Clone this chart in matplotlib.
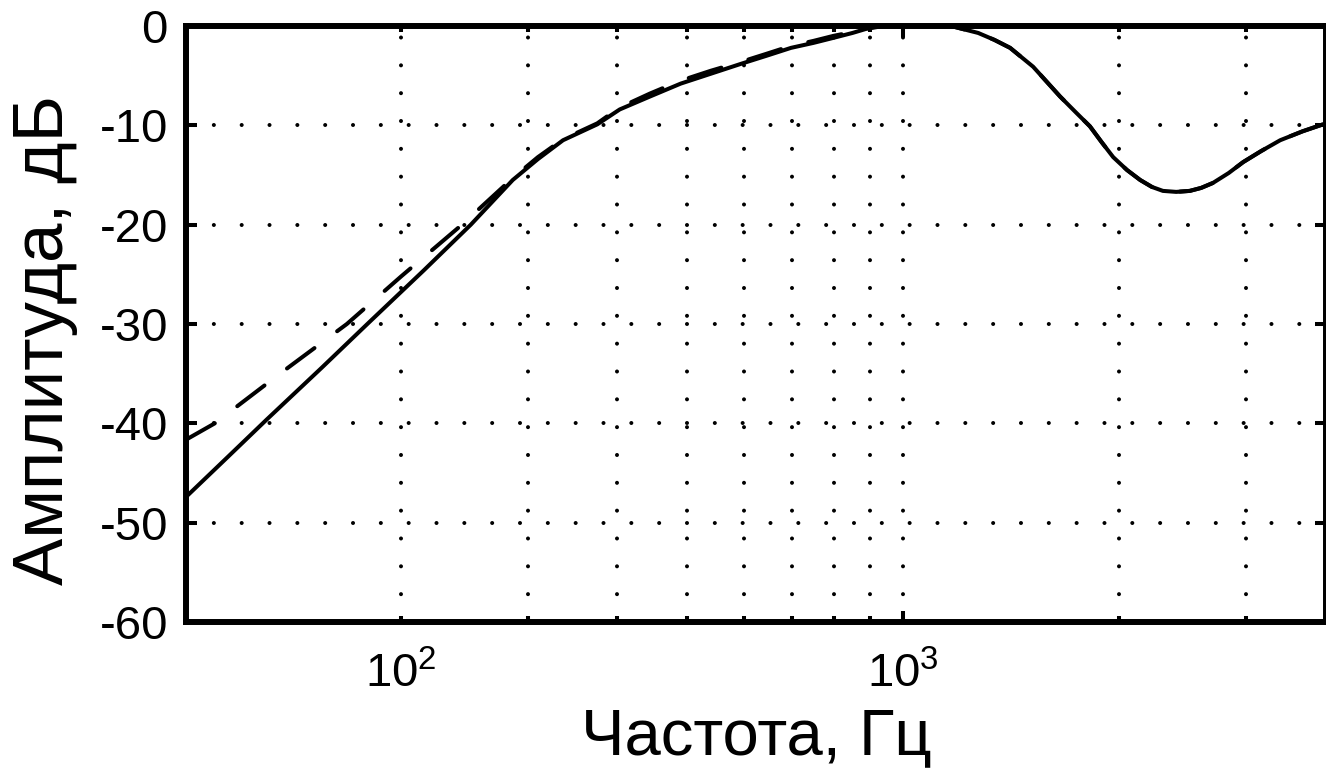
import matplotlib
matplotlib.use('Agg')
import matplotlib.pyplot as plt

plt.rcParams['font.family'] = ['Liberation Sans', 'DejaVu Sans']
plt.rcParams['mathtext.fontset'] = 'custom'
plt.rcParams['mathtext.rm'] = 'Liberation Sans'
plt.rcParams['mathtext.it'] = 'Liberation Sans'

# frequency response (Hz, dB)
freq_solid = [100, 115, 130, 155, 180, 215, 250, 286, 310, 336, 375, 403, 444,
              490, 540, 595, 645, 698, 750, 799, 850, 887, 938, 1000, 1080,
              1152, 1210, 1272, 1340, 1409, 1517, 1654, 1740, 1820, 1890, 1961,
              2050, 2138, 2220, 2300, 2400, 2507, 2600, 2700, 2840, 2975, 3150,
              3350, 3600, 3880]
amp_solid = [-47.5, -43.3, -39.6, -34.4, -29.9, -24.6, -20.0, -15.5, -13.4,
             -11.5, -9.9, -8.4, -7.1, -5.8, -4.8, -3.8, -3.0, -2.2, -1.7, -1.2,
             -0.7, -0.3, 0.0, 0.3, 0.4, 0.1, -0.3, -0.7, -1.4, -2.2, -4.1, -7.1,
             -8.7, -10.1, -11.7, -13.2, -14.5, -15.5, -16.2, -16.6, -16.7,
             -16.6, -16.3, -15.8, -14.8, -13.7, -12.6, -11.5, -10.6, -9.8]

freq_dashed = [100, 110, 135, 168, 200, 243, 286, 310, 336, 375, 403, 444, 490,
               540, 595, 645, 698, 750, 799, 850, 887, 938, 1000, 1080, 1152,
               1210, 1272, 1340, 1409, 1517, 1654, 1740, 1820, 1890, 1961, 2050,
               2138, 2220, 2300, 2400, 2507, 2600, 2700, 2840, 2975, 3150, 3350,
               3600, 3880]
amp_dashed = [-41.7, -40.0, -35.1, -30.0, -25.2, -20.0, -15.3, -13.2, -11.4,
              -9.8, -8.2, -6.8, -5.5, -4.5, -3.6, -2.8, -2.0, -1.5, -1.0, -0.6,
              -0.2, 0.0, 0.3, 0.4, 0.1, -0.3, -0.7, -1.4, -2.2, -4.1, -7.1,
              -8.7, -10.1, -11.7, -13.2, -14.5, -15.5, -16.2, -16.6, -16.7,
              -16.6, -16.3, -15.8, -14.8, -13.7, -12.6, -11.5, -10.6, -9.8]

x_major = [1000]
x_major_labels = ['$10^3$']
x_minor = [200, 300, 400, 500, 600, 700, 800, 900, 2000, 3000]
x_minor_labels = ['$10^2$', '', '', '', '', '', '', '', '', '']
y_ticks = [-60, -50, -40, -30, -20, -10, 0]

fig = plt.figure(figsize=(13.26, 7.71), dpi=100)
ax = fig.add_axes([186 / 1326, 149 / 771, 1140 / 1326, 596 / 771])

ax.plot(freq_solid, amp_solid, color='k', lw=2.9,
        solid_capstyle='round', solid_joinstyle='round')
ax.plot(freq_dashed, amp_dashed, color='k', lw=2.9,
        dashes=(8.5, 7.0), dash_capstyle='round')

ax.set_xscale('log')
ax.set_xlim(100.3, 3880)
ax.set_ylim(-60, 0)

ax.set_xticks(x_major)
ax.set_xticklabels(x_major_labels)
ax.set_xticks(x_minor, minor=True)
ax.set_xticklabels(x_minor_labels, minor=True)
ax.set_yticks(y_ticks)
ax.set_yticklabels([str(v) for v in y_ticks])

dots = dict(color='k', linewidth=2.9, linestyle=(0, (0.01, 6.9)),
            dash_capstyle='round')
ax.grid(True, which='both', axis='x', **dots)
ax.grid(True, which='major', axis='y', **dots)

for s in ax.spines.values():
    s.set_linewidth(4.3)
    s.set_zorder(5)

ax.tick_params(which='both', direction='in', top=True, right=True,
               width=2.9, labelsize=34, color='k')
ax.tick_params(which='major', length=8)
ax.tick_params(which='minor', length=4)
ax.tick_params(axis='x', which='both', pad=22)
ax.tick_params(axis='y', pad=13)

ax.set_xlabel('Частота, Гц', fontsize=47, va='baseline')
ax.xaxis.set_label_coords(0.5, -0.222)
ax.set_ylabel('Амплитуда, дБ', fontsize=51, va='center')
ax.yaxis.set_label_coords(-0.124, 0.473)

fig.savefig('out.png', dpi=100)
